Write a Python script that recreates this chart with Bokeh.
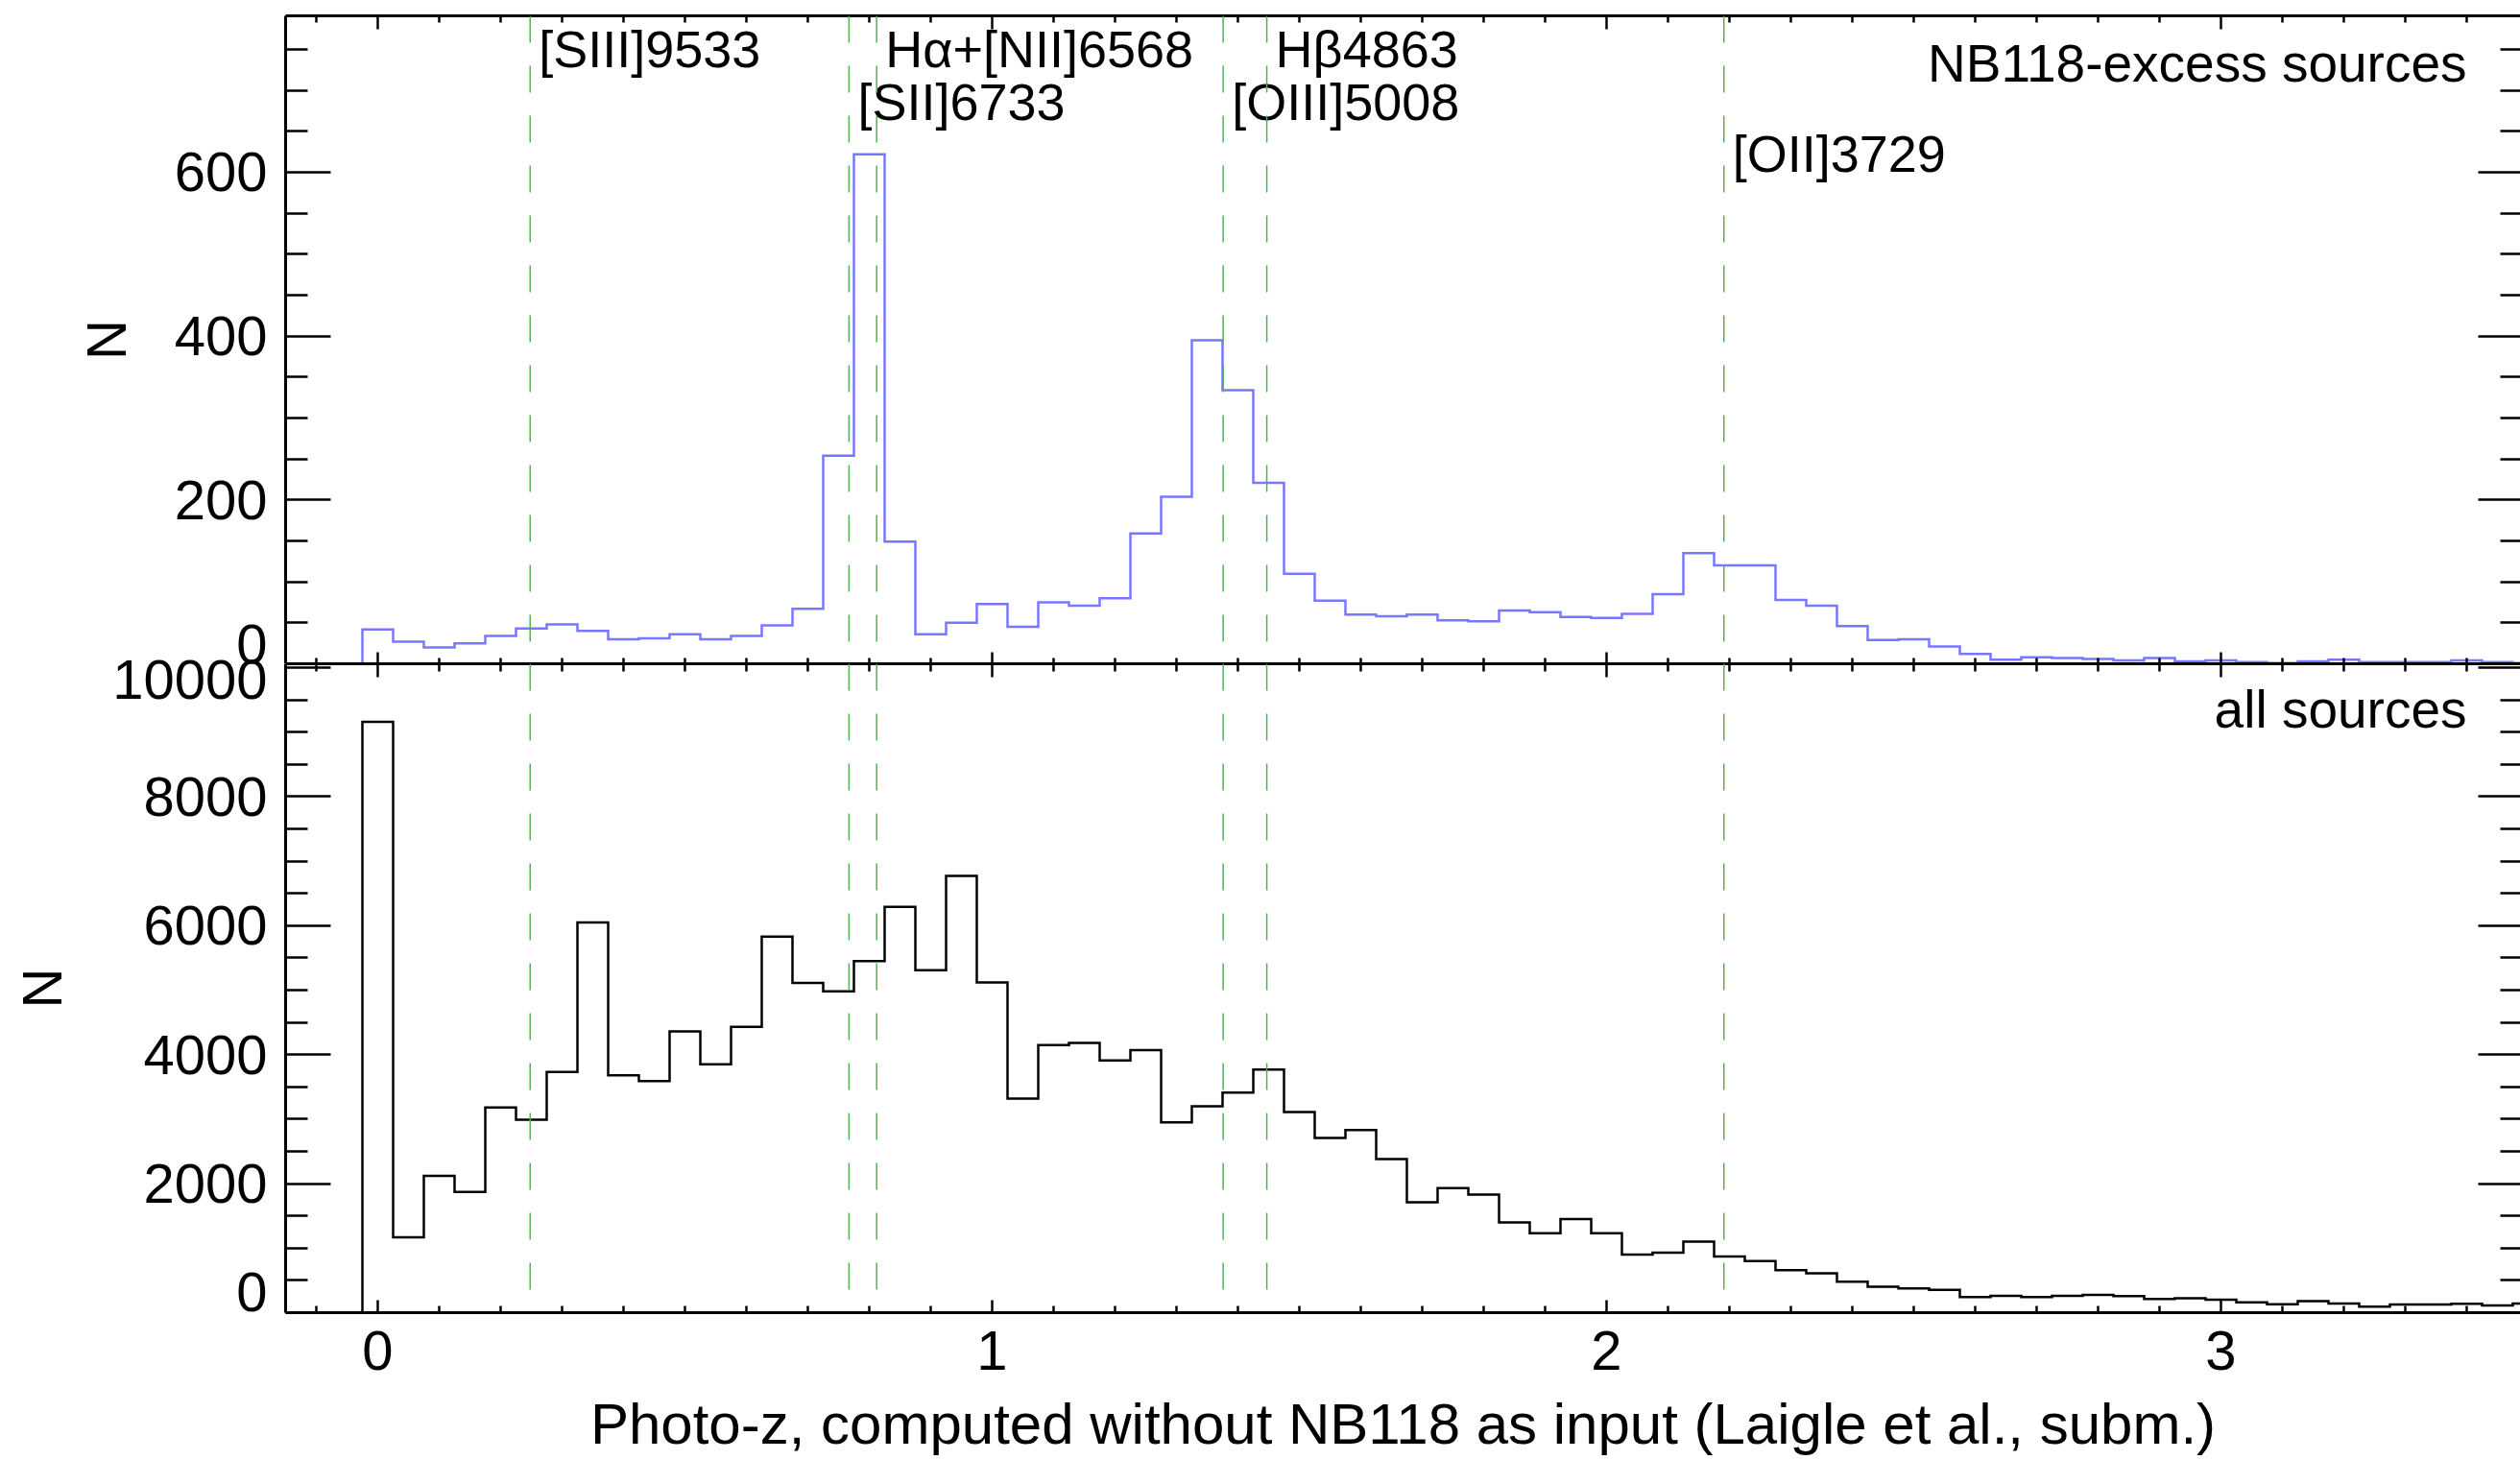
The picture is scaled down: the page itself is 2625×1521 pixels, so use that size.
import numpy as np
from math import pi
from bokeh.plotting import figure
from bokeh.models import Range1d, FixedTicker, LinearAxis, Span, ColumnDataSource
from bokeh.layouts import column, row
from bokeh.embed import file_html
from bokeh.resources import INLINE
from bokeh.core.properties import value

FONT = "Liberation Sans"
GREEN = "#55b055"
BLUE = "#7878ff"

# ---------------- data ----------------
bin_width = 0.05
first_bin_center = 0.0

counts_excess = [42, 27, 20, 25, 34, 43, 48, 40, 30, 31,
                 36, 30, 34, 47, 67, 254, 622, 149, 36, 50,
                 73, 45, 75, 71, 80, 159, 204, 395, 334, 221,
                 110, 77, 60, 58, 60, 53, 52, 65, 63, 57,
                 56, 61, 85, 135, 120, 120, 78, 71, 46, 29,
                 30, 21, 12, 5, 8, 7, 6, 4, 7, 3,
                 4, 2, 1, 3, 5, 2, 2, 2, 4, 2, 1]

counts_all = [9160, 1170, 2120, 1870, 3180, 2990, 3730, 6050, 3680, 3590,
              4360, 3850, 4430, 5830, 5110, 4980, 5450, 6290, 5310, 6770,
              5120, 3320, 4150, 4180, 3910, 4070, 2950, 3200, 3410, 3770,
              3110, 2710, 2830, 2380, 1710, 1930, 1830, 1400, 1230, 1450,
              1230, 900, 930, 1100, 870, 800, 660, 610, 480, 400,
              375, 355, 240, 262, 240, 262, 277, 255, 212, 222,
              200, 160, 130, 180, 140, 92, 125, 128, 137, 113, 142]

line_z = [0.248, 0.767, 0.812, 1.376, 1.447, 2.191]
line_names = ["[SIII]9533", "[SII]6733", "H\u03b1+[NII]6568", "[OIII]5008", "H\u03b24863", "[OII]3729"]
line_label_y = [750, 686, 750, 686, 750, 623]

x_major = [0, 1, 2, 3]
x_tick_labels = ["0", "1", "2", "3"]
top_major = [0, 200, 400, 600]
top_tick_labels = ["0", "200", "400", "600"]
bot_major = [0, 2000, 4000, 6000, 8000, 10000]
bot_tick_labels = ["0", "2000", "4000", "6000", "8000", "10000"]

x_title = "Photo-z, computed without NB118 as input (Laigle et al., subm.)"
top_note = "NB118-excess sources"
bot_note = "all sources"
top_note_y = 733
bot_note_y = 9360
note_x = 3.40

# ---------------- geometry ----------------
W = 2625
H = 1521
LEFT = 297
X0, X1 = -0.15, 3.4875
TOP_Y = (0, 791)
BOT_Y = (0, 10060)
TOP_H, TOP_BORDER = 691, 16
BOT_H, BOT_BORDER = 830, 154

x_minor = [round(v, 1) for v in np.arange(-0.1, 3.45, 0.1) if abs(v - round(v)) > 1e-6]
top_minor = [v for v in range(50, 800, 50) if v % 200 != 0]
bot_minor = [v for v in range(500, 10060, 500) if v % 2000 != 0]


def step_path(counts):
    c = np.asarray(counts, dtype=float)
    centers = first_bin_center + bin_width * np.arange(len(c))
    edges = np.append(centers - bin_width / 2, centers[-1] + bin_width / 2)
    xs = np.concatenate([[edges[0]], edges])
    ys = np.concatenate([[0.0], c, [c[-1]]])
    return xs, ys


def mk_axis(ticker, major_in, minor_in, line=True, labels=False):
    ax = LinearAxis(ticker=ticker)
    ax.major_tick_in = major_in
    ax.major_tick_out = 0
    ax.minor_tick_in = minor_in
    ax.minor_tick_out = 0
    ax.major_tick_line_width = 2.5
    ax.minor_tick_line_width = 2.5
    ax.major_tick_line_color = "black"
    ax.minor_tick_line_color = "black"
    if line:
        ax.axis_line_width = 3
        ax.axis_line_color = "black"
    else:
        ax.axis_line_color = None
    if not labels:
        ax.major_label_text_font_size = "0px"
        ax.major_label_text_color = None
        ax.major_label_standoff = 0
    return ax


def base_fig(height, yr, top_border, bottom_border):
    p = figure(width=W - LEFT + 3, height=height, x_range=Range1d(X0, X1), y_range=Range1d(*yr),
               output_backend="svg", toolbar_location=None,
               x_axis_location=None, y_axis_location=None,
               min_border_left=3, min_border_right=0,
               min_border_top=top_border, min_border_bottom=bottom_border)
    p.outline_line_color = None
    p.grid.visible = False
    p.background_fill_color = "white"
    p.border_fill_color = "white"
    for z in line_z:
        p.add_layout(Span(location=z, dimension="height", line_color=GREEN,
                          line_width=1.5, line_dash="28 24"))
    return p


# ---------------- top panel ----------------
p1 = base_fig(TOP_H, TOP_Y, TOP_BORDER, 0)
xt = FixedTicker(ticks=x_major, minor_ticks=x_minor)
p1.add_layout(mk_axis(xt, 14, 7), "above")
p1.add_layout(mk_axis(xt, 12, 6), "below")
yt1 = FixedTicker(ticks=top_major, minor_ticks=top_minor)
p1.add_layout(mk_axis(yt1, 47, 23), "left")
p1.add_layout(mk_axis(yt1, 44, 21, line=False), "right")

xs, ys = step_path(counts_excess)
p1.step(xs, ys, mode="after", line_color=BLUE, line_width=2.5, line_join="miter")

src = ColumnDataSource(dict(z=line_z, y=line_label_y, name=line_names))
p1.text(x="z", y="y", text="name", source=src, x_offset=9, text_align="left",
        text_baseline="alphabetic", text_font=value(FONT), text_font_size="54px",
        text_color="black")
p1.text(x=[note_x], y=[top_note_y], text=[top_note], text_align="right", text_baseline="alphabetic",
        text_font=value(FONT), text_font_size="55px", text_color="black")

# ---------------- bottom panel ----------------
p2 = base_fig(BOT_H, BOT_Y, 0, BOT_BORDER)
p2.add_layout(mk_axis(xt, 14, 8), "above")
xb = mk_axis(xt, 13, 7, labels=True)
xb.major_label_overrides = {k: s for k, s in zip(x_major, x_tick_labels)}
xb.major_label_text_font = FONT
xb.major_label_text_font_size = "58px"
xb.major_label_text_color = "black"
xb.major_label_standoff = 19
xb.axis_label = x_title
xb.axis_label_text_font = FONT
xb.axis_label_text_font_size = "60px"
xb.axis_label_text_font_style = "normal"
xb.axis_label_text_color = "black"
xb.axis_label_standoff = 20
p2.add_layout(xb, "below")
yt2 = FixedTicker(ticks=bot_major, minor_ticks=bot_minor)
p2.add_layout(mk_axis(yt2, 47, 23), "left")
p2.add_layout(mk_axis(yt2, 44, 21, line=False), "right")

xs, ys = step_path(counts_all)
p2.step(xs, ys, mode="after", line_color="black", line_width=2.5, line_join="miter")
p2.text(x=[note_x], y=[bot_note_y], text=[bot_note], text_align="right", text_baseline="alphabetic",
        text_font=value(FONT), text_font_size="55px", text_color="black")

# ---------------- y tick labels / axis titles (one tall strip sharing the panel scales) ----------------
top_span = TOP_Y[1] - TOP_Y[0]
top_frame = TOP_H - TOP_BORDER
lab_top = Range1d(TOP_Y[0] - (H - TOP_H) / top_frame * top_span,
                  TOP_Y[1] + TOP_BORDER / top_frame * top_span)
bot_span = BOT_Y[1] - BOT_Y[0]
bot_frame = BOT_H - BOT_BORDER
lab_bot = Range1d(BOT_Y[0] - BOT_BORDER / bot_frame * bot_span,
                  BOT_Y[1] + TOP_H / bot_frame * bot_span)

lf = figure(width=LEFT - 3, height=H, x_range=Range1d(-LEFT, -3), y_range=lab_top,
            output_backend="svg", toolbar_location=None,
            x_axis_location=None, y_axis_location=None,
            min_border_left=0, min_border_right=0, min_border_top=0, min_border_bottom=0)
lf.extra_y_ranges = {"bot": lab_bot}
lf.outline_line_color = None
lf.grid.visible = False

tick_style = dict(text_align="right", text_baseline="middle", text_font=value(FONT),
                  text_font_size="58px", text_color="black")
s_top = ColumnDataSource(dict(x=[-19] * len(top_major), y=top_major, t=top_tick_labels,
                              off=[-21, 0, 0, 0]))
lf.text(x="x", y="y", text="t", y_offset="off", source=s_top, **tick_style)
s_bot = ColumnDataSource(dict(x=[-19] * len(bot_major), y=bot_major, t=bot_tick_labels,
                              off=[-22, 0, 0, 0, 0, 12]))
lf.text(x="x", y="y", text="t", y_offset="off", source=s_bot, y_range_name="bot", **tick_style)

n_style = dict(angle=pi / 2, text_align="center", text_baseline="middle",
               text_font=value(FONT), text_font_size="58px", text_color="black")
lf.text(x=[-187], y=[(TOP_Y[0] + TOP_Y[1]) / 2], text=["N"], **n_style)
lf.text(x=[-254], y=[(BOT_Y[0] + BOT_Y[1]) / 2], text=["N"], y_range_name="bot", **n_style)

layout = row(lf, column(p1, p2, spacing=0), spacing=0)
open("out.html", "w").write(file_html(layout, INLINE))
